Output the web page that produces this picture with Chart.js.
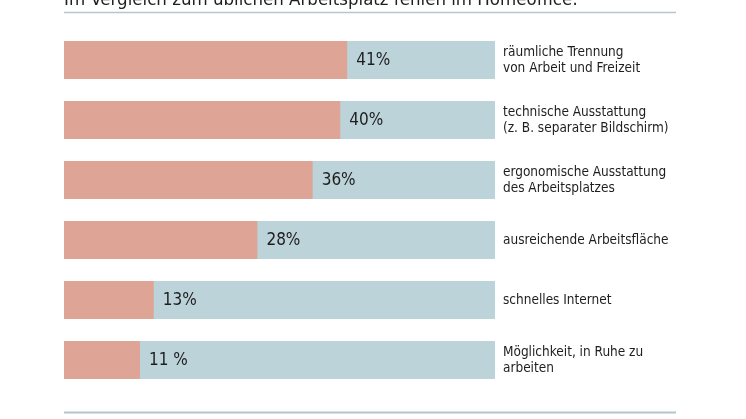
<!DOCTYPE html>
<html>
<head>
<meta charset="utf-8">
<script src="https://cdn.jsdelivr.net/npm/chart.js@4/dist/chart.umd.min.js"></script>
<style>
  html, body { margin: 0; padding: 0; background: #fff; }
  #wrap { width: 746px; height: 419px; position: relative; }
</style>
</head>
<body>
<div id="wrap"><canvas id="chart" width="746" height="419"></canvas></div>
<script>
const title = 'Im Vergleich zum üblichen Arbeitsplatz fehlen im Homeoffice:'
const categories = [
    ['räumliche Trennung', 'von Arbeit und Freizeit'],
    ['technische Ausstattung', '(z. B. separater Bildschirm)'],
    ['ergonomische Ausstattung', 'des Arbeitsplatzes'],
    ['ausreichende Arbeitsfläche'],
    ['schnelles Internet'],
    ['Möglichkeit, in Ruhe zu', 'arbeiten']
]
const values = [41, 40, 36, 28, 13, 11]
const valueLabels = ['41%', '40%', '36%', '28%', '13%', '11 %']
const scaleMax = 62.4
const backValues = categories.map(() => scaleMax)

const fontFamily = '"DejaVu Sans Condensed", "Open Sans", sans-serif'
const textColor = '#1e1e1e'
const lineColor = '#b3c6cd'

// texts and rules around the bars
const decor = {
    id: 'decor',
    afterDatasetsDraw(chart) {
        const ctx = chart.ctx
        const area = chart.chartArea
        ctx.save()
        ctx.fillStyle = textColor
        ctx.textBaseline = 'alphabetic'
        ctx.textAlign = 'left'
        ctx.font = '18.5px ' + fontFamily
        ctx.fillText(title, 64, 4.5)

        ctx.strokeStyle = lineColor
        ctx.lineWidth = 1.5
        ctx.beginPath()
        ctx.moveTo(64, 12.5)
        ctx.lineTo(676, 12.5)
        ctx.stroke()
        ctx.lineWidth = 2
        ctx.beginPath()
        ctx.moveTo(64, 412.5)
        ctx.lineTo(676, 412.5)
        ctx.stroke()

        const meta = chart.getDatasetMeta(0)
        meta.data.forEach((bar, i) => {
            ctx.font = '17px ' + fontFamily
            ctx.textBaseline = 'middle'
            ctx.fillText(valueLabels[i], bar.x + 9, bar.y + 1)
            ctx.font = '13.5px ' + fontFamily
            const lines = categories[i]
            const start = bar.y - (lines.length - 1) * 8
            lines.forEach((l, j) => ctx.fillText(l, area.right + 8, start + j * 16))
        })
        ctx.restore()
    }
}

new Chart('chart', {
    type: 'bar',
    data: {
        labels: categories.map(c => c.join(' ')),
        datasets: [{
            data: values,
            backgroundColor: '#dea597',
            grouped: false,
            order: 1
        }, {
            data: backValues,
            backgroundColor: '#bdd3da',
            grouped: false,
            order: 2
        }]
    },
    options: {
        indexAxis: 'y',
        responsive: false,
        animation: false,
        datasets: { bar: { barPercentage: 0.634, categoryPercentage: 1 } },
        layout: { padding: { left: 64, right: 251, top: 30, bottom: 29 } },
        scales: {
            x: { display: false, min: 0, max: scaleMax },
            y: { display: false }
        },
        plugins: {
            legend: { display: false },
            tooltip: { enabled: false }
        }
    },
    plugins: [decor]
})
</script>
</body>
</html>
